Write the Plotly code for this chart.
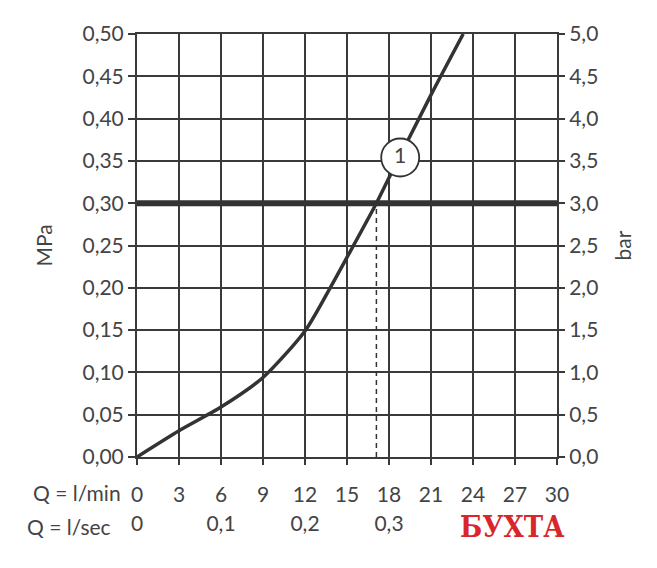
import plotly.graph_objects as go

# flow curve (l/min -> MPa)
flow_lmin = [0, 3, 6, 9, 12, 13.8, 15, 17.1, 18, 21, 23.3]
pressure_mpa = [0, 0.031, 0.059, 0.094, 0.149, 0.20, 0.236, 0.30, 0.33, 0.428, 0.50]

nominal_mpa = 0.30
nominal_flow = 17.1
marker_pos = (18.8, 0.354)
marker_label = "1"

lmin_ticks = [0, 3, 6, 9, 12, 15, 18, 21, 24, 27, 30]
lsec_ticks = [0, 0.1, 0.2, 0.3]
lsec_text = ["0", "0,1", "0,2", "0,3"]

DARK = "#333333"
GRID = "#3a3a3a"
TEXT = "#444444"
FONT = "Lato"

fig = go.Figure()

# thick reference line at nominal pressure
fig.add_trace(go.Scatter(
    x=[0, 30], y=[nominal_mpa, nominal_mpa], mode="lines",
    line=dict(color=DARK, width=6), hoverinfo="skip", showlegend=False
))

# dashed drop line
fig.add_trace(go.Scatter(
    x=[nominal_flow, nominal_flow], y=[0, nominal_mpa], mode="lines",
    line=dict(color=DARK, width=1.5, dash="5px,4px"), hoverinfo="skip", showlegend=False
))

fig.add_trace(go.Scatter(
    x=flow_lmin, y=pressure_mpa, mode="lines",
    line=dict(color=DARK, width=3.5, shape="spline", smoothing=0.7),
    showlegend=False
))

fig.add_trace(go.Scatter(
    x=[marker_pos[0]], y=[marker_pos[1]], mode="markers+text",
    marker=dict(size=38, color="white", line=dict(color=DARK, width=1.8)),
    text=[marker_label], textposition="middle center",
    textfont=dict(size=21, color=TEXT, family=FONT),
    showlegend=False
))

# right axis in bar (dummy trace to activate it)
fig.add_trace(go.Scatter(
    x=[0], y=[0], yaxis="y2", mode="markers",
    marker=dict(opacity=0), hoverinfo="skip", showlegend=False
))

# second x scale in l/sec
fig.add_trace(go.Scatter(
    x=[0], y=[0], xaxis="x2", mode="markers",
    marker=dict(opacity=0), hoverinfo="skip", showlegend=False
))

axis_font = dict(size=21, color=TEXT, family=FONT)

# page body has an 8px margin, so the figure is 8px smaller than the window
fig.update_layout(
    width=649, height=560,
    margin=dict(l=129, r=100, t=24, b=111),
    paper_bgcolor="white", plot_bgcolor="white",
    separators=", ",
    font=dict(family=FONT, color=TEXT),
    xaxis=dict(
        range=[0, 30], tickvals=lmin_ticks, tickfont=axis_font,
        showgrid=True, gridcolor=GRID, gridwidth=2,
        showline=True, linecolor=GRID, linewidth=2, mirror=True,
        ticks="outside", ticklen=6, tickwidth=2, tickcolor=GRID,
        ticklabelstandoff=12, zeroline=False,
    ),
    xaxis2=dict(
        range=[0, 0.5], overlaying="x", side="bottom", anchor="y",
        tickvals=lsec_ticks, ticktext=lsec_text, tickfont=axis_font,
        showgrid=False, showline=False, ticks="", zeroline=False,
        ticklabelstandoff=52,
    ),
    yaxis=dict(
        range=[0, 0.5], dtick=0.05, tickformat=".2f", tickfont=axis_font,
        showgrid=True, gridcolor=GRID, gridwidth=2,
        showline=True, linecolor=GRID, linewidth=2, mirror=True,
        ticks="outside", ticklen=7, tickwidth=2, tickcolor=GRID,
        zeroline=False,
        title=dict(text="MPa", font=axis_font, standoff=24),
    ),
    yaxis2=dict(
        range=[0, 5], dtick=0.5, tickformat=".1f", tickfont=axis_font,
        overlaying="y", side="right", showgrid=False, zeroline=False,
        ticks="outside", ticklen=7, tickwidth=2, tickcolor=GRID,
        title=dict(text="bar", font=axis_font, standoff=18),
    ),
    annotations=[
        dict(text="Q = l/min", xref="paper", yref="paper", x=-0.144, y=-0.085,
             xanchor="center", yanchor="middle", showarrow=False, font=axis_font),
        dict(text="Q = l/sec", xref="paper", yref="paper", x=-0.163, y=-0.165,
             xanchor="center", yanchor="middle", showarrow=False, font=axis_font),
        dict(text="<b>БУХТА</b>", xref="paper", yref="paper", x=1.021, y=-0.165,
             xanchor="right", yanchor="middle", showarrow=False,
             font=dict(size=29, color="#d8262b",
                       family="DejaVu Serif Condensed, Liberation Serif")),
    ],
)

fig.write_html("out.html")
